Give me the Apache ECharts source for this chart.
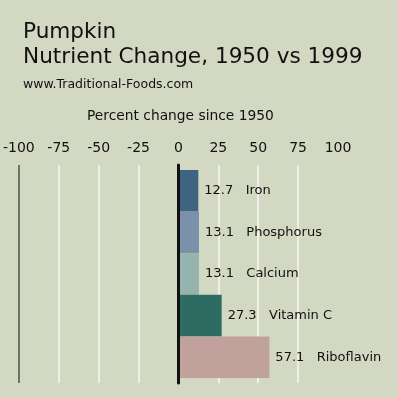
<!DOCTYPE html>
<html>
<head>
<meta charset="utf-8">
<script src="https://cdn.jsdelivr.net/npm/echarts@6/dist/echarts.min.js"></script>
<style>
html, body { margin: 0; padding: 0; background: #d3d8c2; }
#main { width: 398px; height: 398px; }
</style>
</head>
<body>
<div id="main"></div>
<script>
var nutrients = ['Iron', 'Phosphorus', 'Calcium', 'Vitamin C', 'Riboflavin'];
var changes = [12.7, 13.1, 13.1, 27.3, 57.1];
var barColors = ['#3e6481', '#7b91a9', '#95b4ae', '#2e6b62', '#c0a19b'];
var ticks = [-100, -75, -50, -25, 0, 25, 50, 75, 100];

var myChart = echarts.init(document.getElementById('main'));
var font = 'DejaVu Sans';

var option = {
	backgroundColor: '#d3d8c2',
	textStyle: { fontFamily: font },
	graphic: [
		{ type: 'text', left: 23, top: 21, style: { text: 'Pumpkin', font: '21.6px "DejaVu Sans"', fill: '#111' } },
		{ type: 'text', left: 23, top: 46, style: { text: 'Nutrient Change, 1950 vs 1999', font: '21.6px "DejaVu Sans"', fill: '#111' } },
		{ type: 'text', left: 23, top: 78, style: { text: 'www.Traditional-Foods.com', font: '12.5px "DejaVu Sans"', fill: '#111' } },
		{ type: 'text', left: 87, top: 109, style: { text: 'Percent change since 1950', font: '13.8px "DejaVu Sans"', fill: '#111' } }
	],
	// grid 0: ticks + lines, grid 1: bars (a bit inset top/bottom)
	grid: [
		{ left: 18, right: 60, top: 165, bottom: 15 },
		{ left: 18, right: 60, top: 170, bottom: 20 }
	],
	xAxis: [{
		type: 'value',
		gridIndex: 0,
		position: 'top',
		min: -100,
		max: 100,
		interval: 25,
		axisLine: { show: false },
		axisTick: { show: false },
		axisLabel: {
			margin: 10,
			fontSize: 14,
			color: '#111',
			fontFamily: font
		},
		splitLine: {
			show: true,
			lineStyle: {
				width: 2,
				// -100 darker, 0 drawn by the y axis, no line at 100
				color: ['#6e7163', '#eef0e6', '#eef0e6', '#eef0e6', 'rgba(0,0,0,0)', '#eef0e6', '#eef0e6', '#eef0e6', 'rgba(0,0,0,0)']
			}
		}
	}, {
		type: 'value',
		gridIndex: 1,
		min: -100,
		max: 100,
		interval: 25,
		show: false
	}],
	yAxis: [{
		type: 'category',
		gridIndex: 0,
		inverse: true,
		data: nutrients,
		axisLine: { show: true, onZero: true, lineStyle: { color: '#111', width: 3 } },
		axisTick: { show: false },
		axisLabel: { show: false },
		z: 10
	}, {
		type: 'category',
		gridIndex: 1,
		inverse: true,
		data: nutrients,
		axisLine: { show: false },
		axisTick: { show: false },
		axisLabel: { show: false }
	}],
	series: [{
		type: 'bar',
		xAxisIndex: 1,
		yAxisIndex: 1,
		barWidth: '100%',
		data: changes.map(function(v, i) {
			return { value: v, itemStyle: { color: barColors[i] } };
		}),
		label: {
			show: true,
			position: 'right',
			distance: 6,
			fontSize: 13,
			color: '#111',
			fontFamily: font,
			formatter: function(p) {
				return p.value + '   ' + nutrients[p.dataIndex];
			}
		}
	}]
};
myChart.setOption(option);
</script>
</body>
</html>
